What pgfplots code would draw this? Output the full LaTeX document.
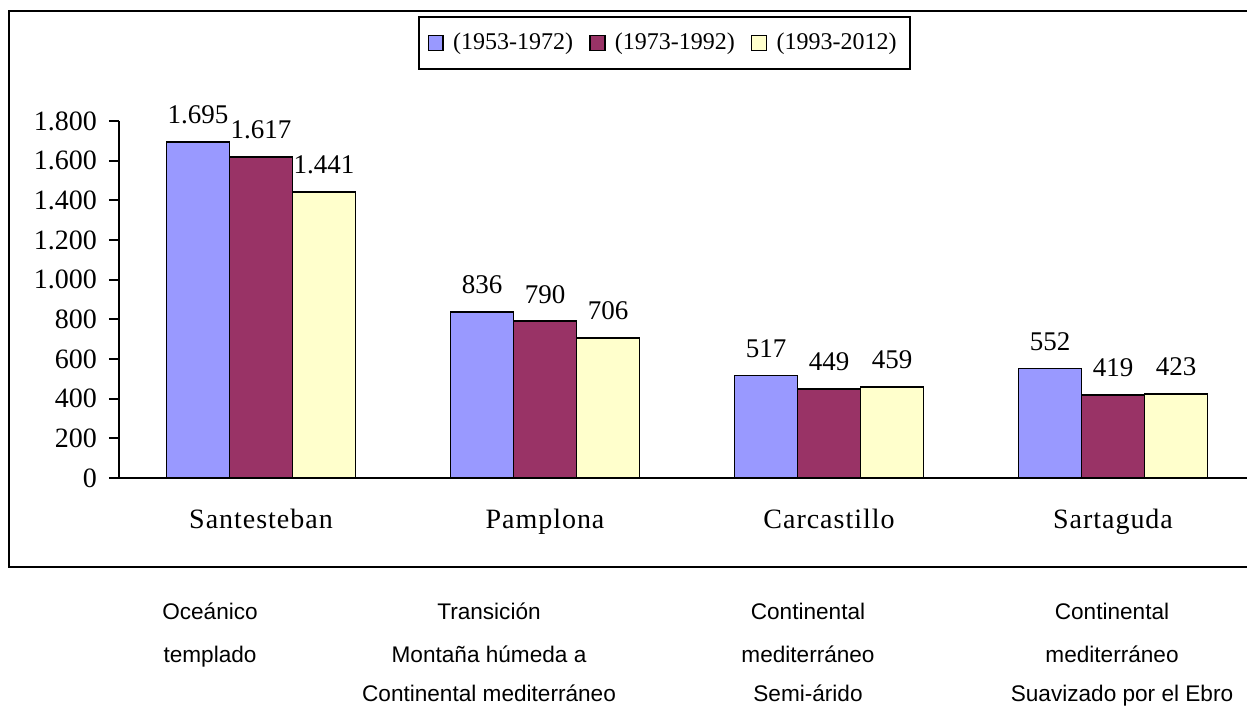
\documentclass[border=0pt]{standalone}
\usepackage{pgfplots}
\pgfplotsset{compat=1.18}
\usepackage{fontspec}
\setmainfont{Liberation Serif}
\newfontfamily\arialfont{Liberation Sans}
\definecolor{cblue}{HTML}{9999FF}
\definecolor{cmaroon}{HTML}{993366}
\definecolor{ccream}{HTML}{FFFFCC}
\begin{document}
\begin{tikzpicture}
\useasboundingbox (0,0) rectangle (623.5pt,355.5pt);
\fill[white] (0,0) rectangle (623.5pt,355.5pt);
\draw[line width=1pt] (640pt,349.75pt) -- (4.5pt,349.75pt) -- (4.5pt,72pt) -- (640pt,72pt);
\begin{axis}[
  at={(59.5pt,116.5pt)}, anchor=south west,
  scale only axis, width=568pt, height=178.5pt,
  xmin=-0.5, xmax=3.5, ymin=0, ymax=1800,
  axis x line*=bottom, axis y line*=left,
  axis line style={line width=1.1pt},
  ybar=0pt, bar width=31.5pt,
  xtick={0,1,2,3},
  xticklabels={Santesteban,Pamplona,Carcastillo,Sartaguda},
  minor xtick={-0.5,0.5,1.5,2.5,3.5},
  xtick style={draw=none},
  minor x tick style={black,line width=1pt},
  ytick={0,200,...,1800},
  ytick style={black,line width=1pt},
  tick align=outside,
  major tick length=5pt, minor tick length=5pt,
  /pgf/number format/.cd, 1000 sep={.}, assume math mode=true,
  /pgfplots/.cd,
  tick label style={font=\fontsize{14}{16}\selectfont},
  xticklabel style={font=\fontsize{14}{16}\selectfont\addfontfeature{LetterSpace=3.5}, yshift=-7pt},
  yticklabel style={xshift=-2.5pt},
  nodes near coords,
  every node near coord/.append style={font=\fontsize{13.5}{15}\selectfont, anchor=south, yshift=5.2pt, black},
  legend style={at={(0.4798,1.2185)}, anchor=center, draw=black, line width=1pt,
    font=\fontsize{12}{13}\selectfont, inner xsep=4.5pt, inner ysep=6.3pt,
    /tikz/every even column/.append style={column sep=6pt}},
  legend columns=3,
  legend image code/.code={\draw[#1,draw=black,line width=0.8pt] (0pt,-3.7pt) rectangle (7.4pt,3.7pt); \path (10pt,0pt);},
  clip=false,
]
\addplot[fill=cblue, draw=black, line width=0.9pt] coordinates {(0,1695) (1,836) (2,517) (3,552)};
\addplot[fill=cmaroon, draw=black, line width=0.9pt] coordinates {(0,1617) (1,790) (2,449) (3,419)};
\addplot[fill=ccream, draw=black, line width=0.9pt] coordinates {(0,1441) (1,706) (2,459) (3,423)};
\legend{(1953-1972),(1973-1992),(1993-2012)}
\end{axis}
\begin{scope}[every node/.style={font=\arialfont\fontsize{11.3}{13}\selectfont, anchor=base, inner sep=0pt}]
\node at (105pt,45.5pt) {Oceánico};
\node at (105pt,24pt) {templado};
\node at (244.5pt,45.5pt) {Transición};
\node at (244.5pt,24pt) {Montaña húmeda a};
\node at (244.5pt,4.5pt) {Continental mediterráneo};
\node at (404pt,45.5pt) {Continental};
\node at (404pt,24pt) {mediterráneo};
\node at (404pt,4.5pt) {Semi-árido};
\node at (556pt,45.5pt) {Continental};
\node at (556pt,24pt) {mediterráneo};
\node at (561pt,4.5pt) {Suavizado por el Ebro};
\end{scope}
\end{tikzpicture}
\end{document}
